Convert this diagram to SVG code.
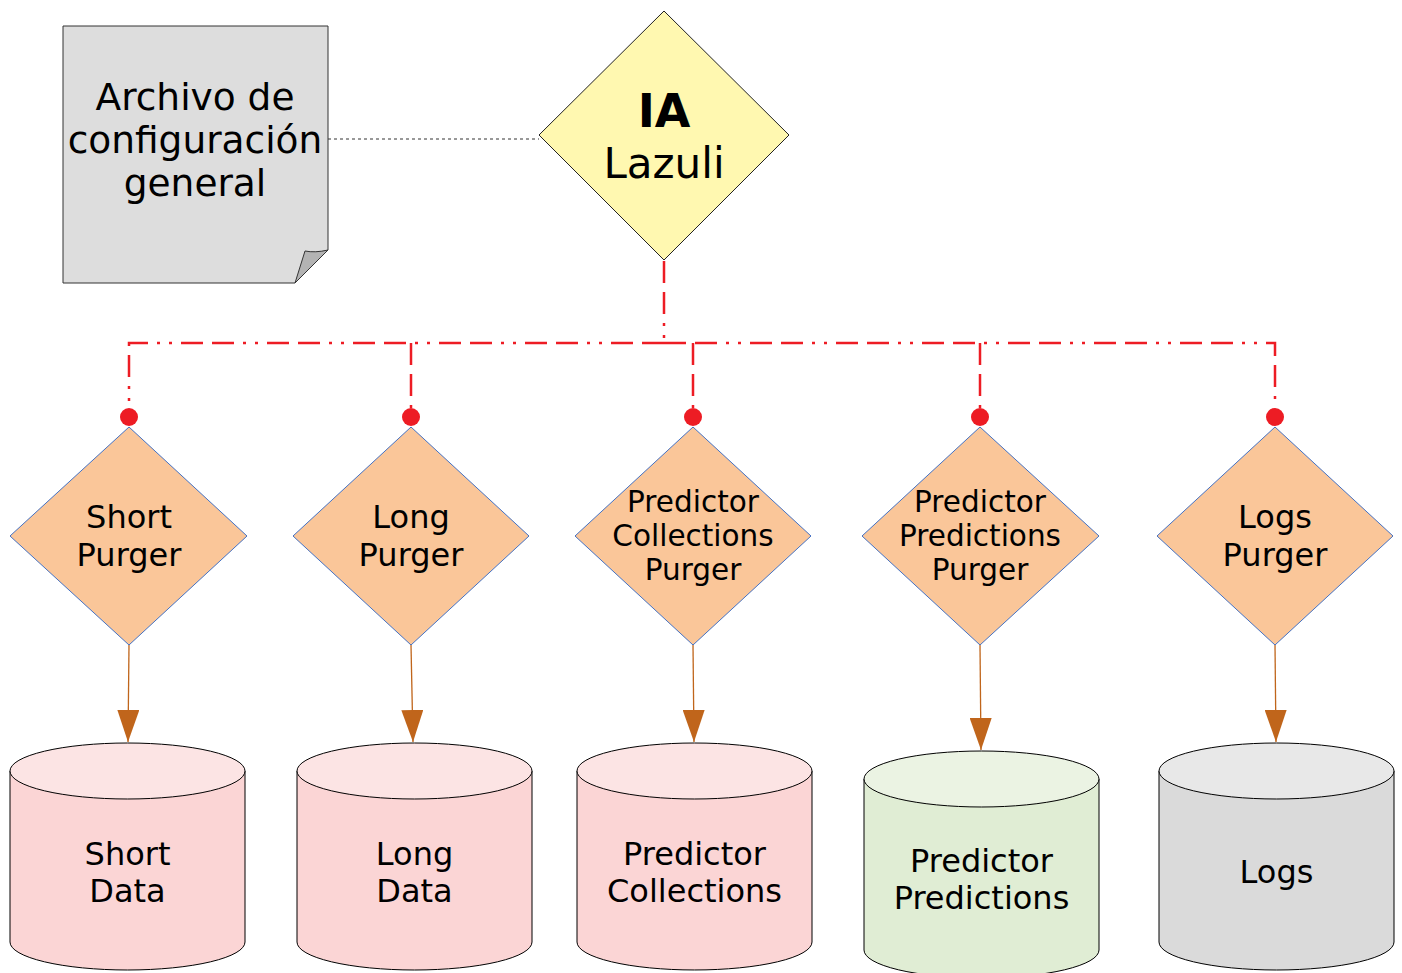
<svg xmlns="http://www.w3.org/2000/svg" width="1402" height="973" viewBox="0 0 1402 973">
<style>
text{font-family:"DejaVu Sans","Liberation Sans",sans-serif;fill:#000;text-anchor:middle}
.purger{fill:#FAC699;stroke:#4472C4;stroke-width:1}
.pt{font-size:32px}
.pt3{font-size:29.5px}
.ct{font-size:32px}
.red{stroke:#ED1C24;stroke-width:2.5;fill:none;stroke-dasharray:22 9 22 9 3 9 3 9}
.arr{stroke:#C0651B;stroke-width:1.3;fill:none}
.dot{fill:#ED1C24}
.cyl{stroke:#000;stroke-width:1}
</style>
<defs>
<marker id="ah2" markerWidth="32" markerHeight="22" refX="32" refY="11" orient="auto" markerUnits="userSpaceOnUse" viewBox="0 0 32 22">
<path d="M0,0 L32,11 L0,22 Z" fill="#C0651B"/>
</marker>
</defs>

<g id="connectors">
<line x1="328" y1="139" x2="539" y2="139" stroke="#333" stroke-width="1" stroke-dasharray="3 3"/>
<path class="red" d="M664,261 V343"/>
<path class="red" d="M664,343 H129 V408"/>
<path class="red" d="M664,343 H1275 V408"/>
<path class="red" d="M411,343 V408"/>
<path class="red" d="M693,343 V408"/>
<path class="red" d="M980,343 V408"/>
<circle class="dot" cx="129" cy="417" r="9"/>
<circle class="dot" cx="411" cy="417" r="9"/>
<circle class="dot" cx="693" cy="417" r="9"/>
<circle class="dot" cx="980" cy="417" r="9"/>
<circle class="dot" cx="1275" cy="417" r="9"/>
<line class="arr" x1="129" y1="645" x2="128" y2="742" marker-end="url(#ah2)"/>
<line class="arr" x1="411" y1="645" x2="413" y2="742" marker-end="url(#ah2)"/>
<line class="arr" x1="693" y1="645" x2="694" y2="742" marker-end="url(#ah2)"/>
<line class="arr" x1="980" y1="645" x2="981" y2="750" marker-end="url(#ah2)"/>
<line class="arr" x1="1275" y1="645" x2="1276" y2="742" marker-end="url(#ah2)"/>
</g>

<g id="config">
<path d="M63,26 H328 V250 L295,283 H63 Z" fill="#DDDDDD" stroke="#333" stroke-width="1"/>
<path d="M295,283 L305,251 Q315,253 328,250 Z" fill="#B3B3B3" stroke="#333" stroke-width="1"/>
<text x="195" y="110" font-size="37.5">Archivo de</text>
<text x="195" y="153" font-size="37.5">configuración</text>
<text x="195" y="196" font-size="37.5">general</text>
</g>

<g id="ialazuli">
<path d="M664,11 L789,135 L664,260 L539,135 Z" fill="#FFF8B0" stroke="#222" stroke-width="1"/>
<text x="664" y="127" font-size="46" font-weight="bold">IA</text>
<text x="664" y="178" font-size="42">Lazuli</text>
</g>

<g id="short-purger">
<path class="purger" d="M129,427 L247,536 L129,645 L10,536 Z"/>
<text class="pt" x="129" y="528">Short</text>
<text class="pt" x="129" y="566">Purger</text>
</g>
<g id="long-purger">
<path class="purger" d="M411,427 L529,536 L411,645 L293,536 Z"/>
<text class="pt" x="411" y="528">Long</text>
<text class="pt" x="411" y="566">Purger</text>
</g>
<g id="collections-purger">
<path class="purger" d="M693,427 L811,536 L693,645 L575,536 Z"/>
<text class="pt3" x="693" y="512">Predictor</text>
<text class="pt3" x="693" y="546">Collections</text>
<text class="pt3" x="693" y="580">Purger</text>
</g>
<g id="predictions-purger">
<path class="purger" d="M980,427 L1099,536 L980,645 L862,536 Z"/>
<text class="pt3" x="980" y="512">Predictor</text>
<text class="pt3" x="980" y="546">Predictions</text>
<text class="pt3" x="980" y="580">Purger</text>
</g>
<g id="logs-purger">
<path class="purger" d="M1275,427 L1393,536 L1275,645 L1157,536 Z"/>
<text class="pt" x="1275" y="528">Logs</text>
<text class="pt" x="1275" y="566">Purger</text>
</g>

<g id="short-data">
<path class="cyl" d="M10,771 V942 A117.5,28 0 0 0 245,942 V771" fill="#FBD5D5"/>
<ellipse class="cyl" cx="127.5" cy="771" rx="117.5" ry="28" fill="#FCE4E4"/>
<text class="ct" x="127.5" y="865">Short</text>
<text class="ct" x="127.5" y="902">Data</text>
</g>
<g id="long-data">
<path class="cyl" d="M297,771 V942 A117.5,28 0 0 0 532,942 V771" fill="#FBD5D5"/>
<ellipse class="cyl" cx="414.5" cy="771" rx="117.5" ry="28" fill="#FCE4E4"/>
<text class="ct" x="414.5" y="865">Long</text>
<text class="ct" x="414.5" y="902">Data</text>
</g>
<g id="collections-data">
<path class="cyl" d="M577,771 V942 A117.5,28 0 0 0 812,942 V771" fill="#FBD5D5"/>
<ellipse class="cyl" cx="694.5" cy="771" rx="117.5" ry="28" fill="#FCE4E4"/>
<text class="ct" x="694.5" y="865">Predictor</text>
<text class="ct" x="694.5" y="902">Collections</text>
</g>
<g id="predictions-data">
<path class="cyl" d="M864,779 V950 A117.5,28 0 0 0 1099,950 V779" fill="#E0EDD4"/>
<ellipse class="cyl" cx="981.5" cy="779" rx="117.5" ry="28" fill="#EBF3E3"/>
<text class="ct" x="981.5" y="872">Predictor</text>
<text class="ct" x="981.5" y="909">Predictions</text>
</g>
<g id="logs-data">
<path class="cyl" d="M1159,771 V942 A117.5,28 0 0 0 1394,942 V771" fill="#DADADA"/>
<ellipse class="cyl" cx="1276.5" cy="771" rx="117.5" ry="28" fill="#E8E8E8"/>
<text class="ct" x="1276.5" y="883">Logs</text>
</g>
</svg>
